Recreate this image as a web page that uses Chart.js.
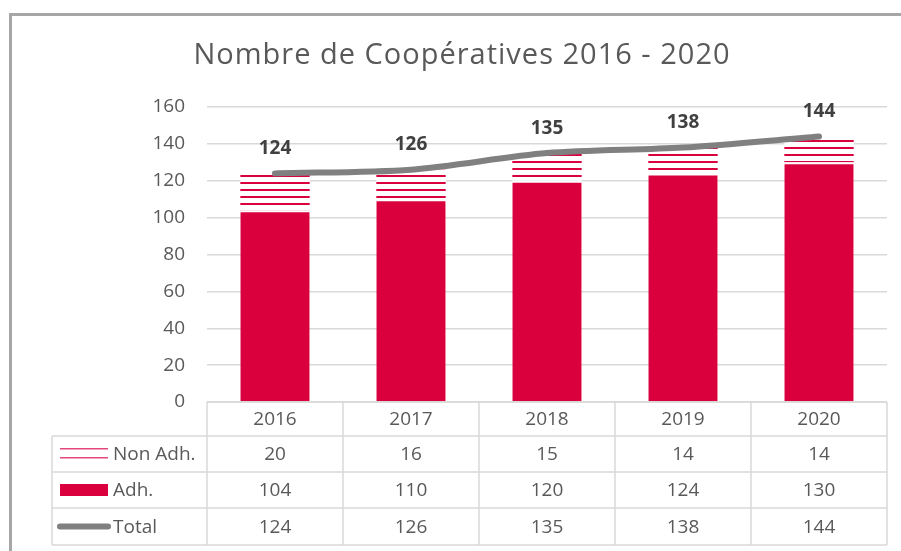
<!DOCTYPE html>
<html>
<head>
<meta charset="utf-8">
<script src="https://cdn.jsdelivr.net/npm/chart.js@4/dist/chart.umd.min.js"></script>
<style>
  html, body { margin: 0; padding: 0; background: #fff; }
  #chart { display: block; }
</style>
</head>
<body>
<canvas id="chart" width="901" height="551"></canvas>
<script>
// data
const years = ["2016", "2017", "2018", "2019", "2020"];
const nonAdh = [20, 16, 15, 14, 14];
const adh = [104, 110, 120, 124, 130];
const total = [124, 126, 135, 138, 144];
const seriesNames = ["Non Adh.", "Adh.", "Total"];
const chartTitle = "Nombre de Coopératives 2016 - 2020";

const RED = "#D9003D";
const GREY_LINE = "#808080";
const TEXT = "#595959";
const GRID = "#D9D9D9";
const FONT = "'Open Sans', sans-serif";

// striped fill for "Non Adh."
function stripes() {
    const c = document.createElement("canvas");
    c.width = 8;
    c.height = 7;
    const g = c.getContext("2d");
    g.fillStyle = "#fff";
    g.fillRect(0, 0, 8, 7);
    g.fillStyle = RED;
    g.fillRect(0, 0, 8, 2);
    return g.createPattern(c, "repeat");
}

const ctx = document.getElementById("chart").getContext("2d");

const framePlugin = {
    id: "frame",
    beforeDraw(chart) {
        const c = chart.ctx;
        c.save();
        c.strokeStyle = "#A6A6A6";
        c.lineWidth = 3;
        c.beginPath();
        c.moveTo(10.5, 560);
        c.lineTo(10.5, 14.5);
        c.lineTo(910, 14.5);
        c.stroke();
        c.fillStyle = TEXT;
        c.font = "29px " + FONT;
        c.letterSpacing = "1px";
        c.textAlign = "center";
        c.textBaseline = "middle";
        c.fillText(chartTitle, 462, 56);
        c.restore();
    }
};

const labelPlugin = {
    id: "lineLabels",
    afterDatasetsDraw(chart) {
        const c = chart.ctx;
        const meta = chart.getDatasetMeta(2);
        c.save();
        c.fillStyle = "#404040";
        c.font = "bold 19px " + FONT;
        c.textAlign = "center";
        c.textBaseline = "middle";
        meta.data.forEach((pt, i) => {
            c.fillText(String(total[i]), pt.x, pt.y - 25);
        });
        c.restore();
    }
};

const tablePlugin = {
    id: "dataTable",
    afterDraw(chart) {
        const c = chart.ctx;
        const area = chart.chartArea;
        const x = chart.scales.x;
        const colW = area.width / years.length;
        const legendLeft = 52;
        const top = area.bottom;
        const rowTops = [top, top + 34, top + 70, top + 106];
        const bottom = top + 143;
        const rows = [nonAdh, adh, total];

        c.save();
        c.strokeStyle = GRID;
        c.lineWidth = 1.5;
        c.beginPath();
        // horizontal lines
        c.moveTo(area.left, top);
        c.lineTo(area.right, top);
        rowTops.slice(1).concat([bottom]).forEach(y => {
            c.moveTo(legendLeft, y);
            c.lineTo(area.right, y);
        });
        // vertical lines
        c.moveTo(legendLeft, rowTops[1]);
        c.lineTo(legendLeft, bottom);
        for (let i = 0; i <= years.length; i++) {
            const vx = area.left + i * colW;
            c.moveTo(vx, top);
            c.lineTo(vx, bottom);
        }
        c.stroke();

        c.fillStyle = TEXT;
        c.font = "19px " + FONT;
        c.textAlign = "center";
        c.textBaseline = "middle";
        years.forEach((yr, i) => {
            const cx = x.getPixelForValue(i);
            c.fillText(yr, cx, (rowTops[0] + rowTops[1]) / 2 + 1);
            rows.forEach((vals, r) => {
                const y0 = rowTops[r + 1];
                const y1 = r + 2 < rowTops.length ? rowTops[r + 2] : bottom;
                c.fillText(String(vals[i]), cx, (y0 + y1) / 2 + 1);
            });
        });

        // legend keys
        c.textAlign = "left";
        seriesNames.forEach((name, r) => {
            const y0 = rowTops[r + 1];
            const y1 = r + 2 < rowTops.length ? rowTops[r + 2] : bottom;
            const cy = (y0 + y1) / 2;
            if (r === 0) {
                c.fillStyle = "#E4487A";
                c.fillRect(60, cy - 6, 48, 1.5);
                c.fillRect(60, cy + 3, 48, 1.5);
            } else if (r === 1) {
                c.fillStyle = RED;
                c.fillRect(60, cy - 6, 48, 12);
            } else {
                c.strokeStyle = GREY_LINE;
                c.lineWidth = 6;
                c.lineCap = "round";
                c.beginPath();
                c.moveTo(60, cy);
                c.lineTo(108, cy);
                c.stroke();
            }
            c.fillStyle = TEXT;
            c.fillText(name, 113, cy + 1);
        });
        c.restore();
    }
};

new Chart(ctx, {
    type: "bar",
    data: {
        labels: years,
        datasets: [
            {
                label: "Adh.",
                data: adh,
                backgroundColor: RED,
                borderColor: "#fff",
                borderWidth: { top: 2 },
                borderSkipped: false,
                barPercentage: 0.51,
                categoryPercentage: 1,
                order: 1
            },
            {
                label: "Non Adh.",
                data: nonAdh,
                backgroundColor: stripes(),
                barPercentage: 0.51,
                categoryPercentage: 1,
                order: 1
            },
            {
                type: "line",
                label: "Total",
                data: total,
                borderColor: GREY_LINE,
                borderWidth: 6,
                borderCapStyle: "round",
                pointRadius: 0,
                tension: 0.3,
                stack: "total",
                order: 0
            }
        ]
    },
    options: {
        responsive: false,
        animation: false,
        layout: { padding: { left: 0, right: 14, top: 107, bottom: 149 } },
        plugins: {
            legend: { display: false },
            tooltip: { enabled: false },
            title: { display: false }
        },
        scales: {
            x: {
                stacked: true,
                display: false
            },
            y: {
                stacked: true,
                min: 0,
                max: 160,
                afterFit(scale) { scale.width = 207; },
                border: { display: false },
                grid: { color: GRID, lineWidth: 1.5, drawTicks: false },
                ticks: {
                    stepSize: 20,
                    padding: 22,
                    color: TEXT,
                    font: { family: FONT, size: 19 }
                }
            }
        }
    },
    plugins: [framePlugin, labelPlugin, tablePlugin]
});
</script>
</body>
</html>
